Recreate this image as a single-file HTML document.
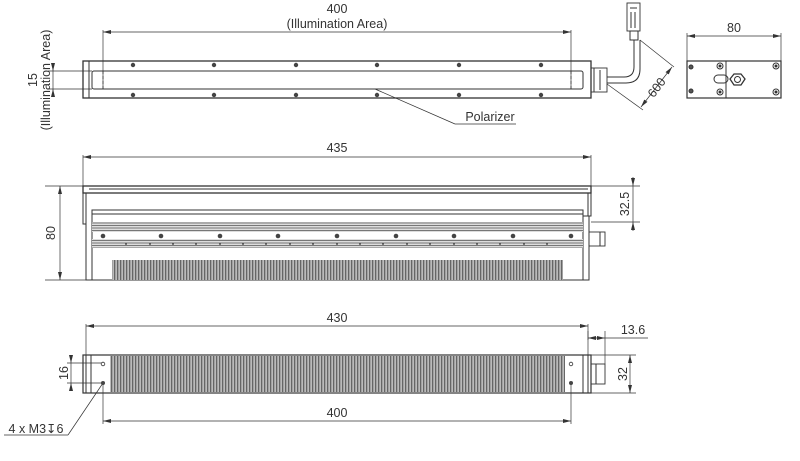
<!DOCTYPE html>
<html><head><style>
html,body{margin:0;padding:0;background:#fff}
svg{display:block}
text{font-family:"Liberation Sans","DejaVu Sans",sans-serif;fill:#333}
</style></head><body>
<svg width="800" height="461" viewBox="0 0 800 461" xmlns="http://www.w3.org/2000/svg">
<defs>
<pattern id="fins" width="3" height="10" patternUnits="userSpaceOnUse">
<rect width="3" height="10" fill="#bbb"/><rect width="1.3" height="10" fill="#666"/>
</pattern>
<pattern id="str" width="10" height="2.5" patternUnits="userSpaceOnUse">
<rect width="10" height="2.5" fill="#ddd"/><rect width="10" height="1" fill="#777"/>
</pattern>
<marker id="a" markerWidth="8" markerHeight="6" refX="8" refY="3" orient="auto-start-reverse" markerUnits="userSpaceOnUse"><path d="M0,1 L8,3 L0,5z" fill="#333"/></marker>
</defs>
<g stroke="#333" fill="none" stroke-width="1">
<!-- TOP VIEW -->
<line x1="103" y1="32" x2="571" y2="32" marker-start="url(#a)" marker-end="url(#a)" stroke-width="0.8"/>
<line x1="103" y1="30" x2="103" y2="89" stroke-width="0.7"/>
<line x1="571" y1="30" x2="571" y2="89" stroke-width="0.7"/>
<rect x="83" y="61" width="508" height="37" stroke-width="1.3"/>
<line x1="89" y1="61" x2="89" y2="98"/>
<rect x="92" y="71" width="491" height="18" rx="2"/>
<line x1="103" y1="71" x2="103" y2="89" stroke-dasharray="3,2" stroke-width="0.8"/>
<line x1="571" y1="71" x2="571" y2="89" stroke-dasharray="3,2" stroke-width="0.8"/>
<line x1="48" y1="71" x2="92" y2="71" stroke-width="0.7"/>
<line x1="48" y1="89" x2="92" y2="89" stroke-width="0.7"/>
<line x1="53" y1="64" x2="53" y2="71" marker-end="url(#a)" stroke-width="0.7"/>
<line x1="53" y1="96" x2="53" y2="89" marker-end="url(#a)" stroke-width="0.7"/>
<line x1="53" y1="71" x2="53" y2="89" stroke-width="0.7"/>
<line x1="375" y1="89" x2="455" y2="124" stroke-width="0.7"/>
<line x1="455" y1="124" x2="516" y2="124" stroke-width="0.7"/>
<!-- gland & cable -->
<rect x="591" y="68" width="16" height="24" stroke-width="0.9"/>
<line x1="594" y1="68" x2="594" y2="92"/><line x1="600" y1="70" x2="600" y2="90"/>
<path d="M607,77 H624 Q634,77 634,67 V40" />
<path d="M607,83 H626 Q640,83 640,69 V40" />
<rect x="627" y="3" width="13" height="28" stroke-width="0.9"/>
<rect x="630" y="31" width="8" height="9"/>
<line x1="630" y1="8" x2="637" y2="8"/><line x1="631" y1="12" x2="631" y2="28"/><line x1="635" y1="12" x2="635" y2="28"/>
<line x1="640" y1="40" x2="674" y2="67" stroke-width="0.7"/>
<line x1="607" y1="84" x2="643" y2="110" stroke-width="0.7"/>
<line x1="672" y1="67" x2="641" y2="107" marker-start="url(#a)" marker-end="url(#a)" stroke-width="0.7"/>
<!-- END VIEW -->
<line x1="687" y1="36" x2="781" y2="36" marker-start="url(#a)" marker-end="url(#a)" stroke-width="0.7"/>
<line x1="687" y1="33" x2="687" y2="61" stroke-width="0.7"/>
<line x1="781" y1="33" x2="781" y2="61" stroke-width="0.7"/>
<rect x="687" y="61" width="94" height="37" stroke-width="1.2"/>
<line x1="726" y1="61" x2="726" y2="98"/>
<circle cx="691" cy="67" r="2" fill="#555"/><circle cx="691" cy="91" r="2" fill="#555"/>
<circle cx="720" cy="66" r="3"/><circle cx="720" cy="92" r="3"/>
<circle cx="776" cy="66" r="3"/><circle cx="776" cy="92" r="3"/>
<circle cx="720" cy="66" r="1" fill="#333"/><circle cx="720" cy="92" r="1" fill="#333"/>
<circle cx="776" cy="66" r="1" fill="#333"/><circle cx="776" cy="92" r="1" fill="#333"/>
<rect x="714" y="75" width="14" height="8" rx="4"/>
<polygon points="734,74 741,74 745,79 741,85 734,85 730,79" stroke-width="1.3"/>
<circle cx="737.5" cy="79.5" r="3"/>
<!-- FRONT VIEW -->
<line x1="83" y1="157" x2="591" y2="157" marker-start="url(#a)" marker-end="url(#a)" stroke-width="0.7"/>
<line x1="83" y1="155" x2="83" y2="186" stroke-width="0.7"/>
<line x1="591" y1="155" x2="591" y2="186" stroke-width="0.7"/>
<rect x="83" y="186" width="508" height="7" stroke-width="1.3"/>
<line x1="89" y1="189" x2="588" y2="189"/>
<path d="M83,193 V224 H86 V193"/>
<path d="M588,193 V216 H591 V193"/>
<path d="M86,193 V280 H589 V216"/>
<rect x="92" y="210" width="491" height="70"/>
<line x1="92" y1="214" x2="583" y2="214"/>
<line x1="583" y1="216" x2="589" y2="216"/>
<rect x="589" y="232" width="16" height="14" stroke-width="0.9"/>
<line x1="600" y1="232" x2="600" y2="246"/>
<line x1="45" y1="186" x2="83" y2="186" stroke-width="0.7"/>
<line x1="45" y1="280" x2="86" y2="280" stroke-width="0.7"/>
<line x1="60" y1="186" x2="60" y2="280" marker-start="url(#a)" marker-end="url(#a)" stroke-width="0.7"/>
<line x1="591" y1="186" x2="640" y2="186" stroke-width="0.7"/>
<line x1="591" y1="222" x2="640" y2="222" stroke-width="0.7"/>
<line x1="633" y1="177" x2="633" y2="186" marker-end="url(#a)" stroke-width="0.7"/>
<line x1="633" y1="231" x2="633" y2="222" marker-end="url(#a)" stroke-width="0.7"/>
<line x1="633" y1="186" x2="633" y2="222" stroke-width="0.7"/>
<!-- BOTTOM VIEW -->
<line x1="86" y1="326" x2="588" y2="326" marker-start="url(#a)" marker-end="url(#a)" stroke-width="0.7"/>
<line x1="86" y1="324" x2="86" y2="355" stroke-width="0.7"/>
<line x1="588" y1="324" x2="588" y2="355" stroke-width="0.7"/>
<rect x="83" y="355" width="508" height="38" stroke-width="1.2"/>
<line x1="86" y1="355" x2="86" y2="393"/><line x1="91" y1="355" x2="91" y2="393"/>
<line x1="583" y1="355" x2="583" y2="393"/><line x1="588" y1="355" x2="588" y2="393"/>
<rect x="591" y="364" width="14" height="20" stroke-width="0.9"/>
<line x1="596" y1="364" x2="596" y2="384"/>
<line x1="588" y1="331" x2="588" y2="340" stroke-width="0.7"/>
<line x1="605" y1="331" x2="605" y2="364" stroke-width="0.7"/>
<line x1="588" y1="338" x2="605" y2="338" marker-start="url(#a)" marker-end="url(#a)" stroke-width="0.7"/>
<line x1="605" y1="338" x2="648" y2="338" stroke-width="0.7"/>
<line x1="591" y1="355" x2="636" y2="355" stroke-width="0.7"/>
<line x1="591" y1="393" x2="636" y2="393" stroke-width="0.7"/>
<line x1="630" y1="355" x2="630" y2="393" marker-start="url(#a)" marker-end="url(#a)" stroke-width="0.7"/>
<line x1="67" y1="363" x2="103" y2="363" stroke-width="0.7"/>
<line x1="67" y1="383" x2="103" y2="383" stroke-width="0.7"/>
<line x1="71" y1="356" x2="71" y2="363" marker-end="url(#a)" stroke-width="0.7"/>
<line x1="71" y1="390" x2="71" y2="383" marker-end="url(#a)" stroke-width="0.7"/>
<line x1="71" y1="363" x2="71" y2="383" stroke-width="0.7"/>
<line x1="103" y1="383" x2="103" y2="424" stroke-width="0.7"/>
<line x1="571" y1="383" x2="571" y2="424" stroke-width="0.7"/>
<line x1="103" y1="421" x2="571" y2="421" marker-start="url(#a)" marker-end="url(#a)" stroke-width="0.7"/>
<line x1="103" y1="383" x2="68" y2="435" stroke-width="0.7"/>
<line x1="4" y1="435" x2="68" y2="435" stroke-width="0.7"/>
</g>
<!-- fills -->
<rect x="92" y="222" width="491" height="10" fill="url(#str)"/>
<rect x="92" y="239" width="491" height="9" fill="url(#str)"/>
<rect x="112" y="260" width="451" height="20" fill="url(#fins)"/>
<rect x="110" y="356" width="455" height="36" fill="url(#fins)"/>
<g fill="#444">
<circle cx="133" cy="65" r="2.2"/><circle cx="214" cy="65" r="2.2"/><circle cx="296" cy="65" r="2.2"/><circle cx="377" cy="65" r="2.2"/><circle cx="459" cy="65" r="2.2"/><circle cx="541" cy="65" r="2.2"/>
<circle cx="133" cy="95" r="2.2"/><circle cx="214" cy="95" r="2.2"/><circle cx="296" cy="95" r="2.2"/><circle cx="377" cy="95" r="2.2"/><circle cx="459" cy="95" r="2.2"/><circle cx="541" cy="95" r="2.2"/>
<circle cx="103" cy="236" r="2.3"/><circle cx="161" cy="236" r="2.3"/><circle cx="220" cy="236" r="2.3"/><circle cx="278" cy="236" r="2.3"/><circle cx="337" cy="236" r="2.3"/><circle cx="396" cy="236" r="2.3"/><circle cx="454" cy="236" r="2.3"/><circle cx="513" cy="236" r="2.3"/><circle cx="571" cy="236" r="2.3"/>
<circle cx="103" cy="383" r="2"/><circle cx="571" cy="383" r="2"/>
</g>
<g fill="#fff" stroke="#333" stroke-width="0.8"><circle cx="103" cy="364" r="1.8"/><circle cx="571" cy="364" r="1.8"/></g>
<g fill="#333">
<circle cx="126" cy="244" r="0.9"/><circle cx="150" cy="244" r="0.9"/><circle cx="173" cy="244" r="0.9"/><circle cx="196" cy="244" r="0.9"/><circle cx="220" cy="244" r="0.9"/><circle cx="243" cy="244" r="0.9"/><circle cx="266" cy="244" r="0.9"/><circle cx="290" cy="244" r="0.9"/><circle cx="313" cy="244" r="0.9"/><circle cx="337" cy="244" r="0.9"/><circle cx="360" cy="244" r="0.9"/><circle cx="383" cy="244" r="0.9"/><circle cx="407" cy="244" r="0.9"/><circle cx="430" cy="244" r="0.9"/><circle cx="454" cy="244" r="0.9"/><circle cx="477" cy="244" r="0.9"/><circle cx="500" cy="244" r="0.9"/><circle cx="524" cy="244" r="0.9"/><circle cx="547" cy="244" r="0.9"/>
</g>
<!-- text -->
<g font-size="12.5" text-anchor="middle">
<text x="337" y="13">400</text>
<text x="337" y="28">(Illumination Area)</text>
<text x="490" y="121">Polarizer</text>
<text x="734" y="32">80</text>
<text x="337" y="152">435</text>
<text x="337" y="322">430</text>
<text x="337" y="417">400</text>
<text x="633" y="334">13.6</text>
<text transform="translate(660,90) rotate(-53)">600</text>
<text transform="translate(37,80) rotate(-90)">15</text>
<text transform="translate(50,80) rotate(-90)">(Illumination Area)</text>
<text transform="translate(55,233) rotate(-90)">80</text>
<text transform="translate(629,204) rotate(-90)">32.5</text>
<text transform="translate(627,374) rotate(-90)">32</text>
<text transform="translate(68,373) rotate(-90)">16</text>
<text x="36" y="433">4 x M3↧6</text>
</g>
</svg>
</body></html>
